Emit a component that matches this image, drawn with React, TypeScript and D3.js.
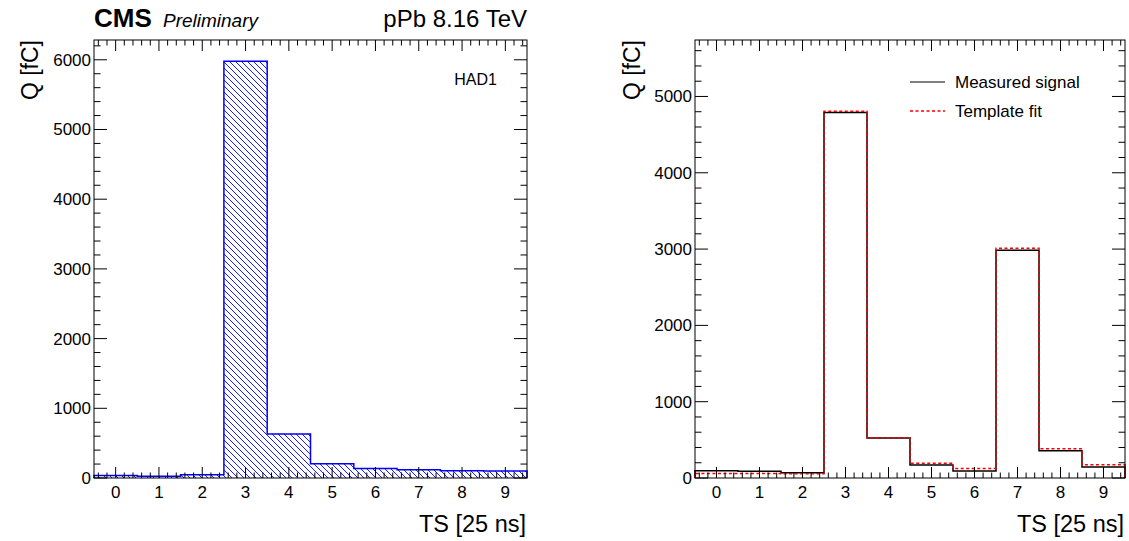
import React from 'react';
import * as d3 from 'd3';

// time slices (bin centres)
const timeSlices = [0, 1, 2, 3, 4, 5, 6, 7, 8, 9];
// left: HAD1 pulse
const had1Charge = [35, 25, 45, 5980, 630, 205, 135, 120, 105, 100];
// right: measured signal and template fit
const measuredSignal = [95, 88, 70, 4790, 525, 170, 92, 2985, 358, 144];
const templateFit = [60, 60, 56, 4805, 528, 192, 126, 3012, 384, 174];
const leftYMax = 6284;
const rightYMax = 5740;
const yTicksMajor = [0, 1000, 2000, 3000, 4000, 5000, 6000];

const W = 1129;
const H = 541;
const FONT = '"Liberation Sans", Arial, Helvetica, sans-serif';

type PanelProps = {
  x0: number;
  x1: number;
  yMax: number;
  children: (x: d3.ScaleLinear<number, number>, y: d3.ScaleLinear<number, number>) => React.ReactNode;
  titleX: number;
};

const top = 40;
const bottom = 478;

// builds a closed step outline for a histogram
const stepPath = (vals: number[], x: d3.ScaleLinear<number, number>, y: d3.ScaleLinear<number, number>) => {
  const pts: [number, number][] = [[x(-0.5), y(0)]];
  vals.forEach((v, i) => {
    pts.push([x(timeSlices[i] - 0.5), y(v)]);
    pts.push([x(timeSlices[i] + 0.5), y(v)]);
  });
  pts.push([x(9.5), y(0)]);
  return d3.line()(pts) || '';
};

const Panel = ({ x0, x1, yMax, children, titleX }: PanelProps) => {
  const x = d3.scaleLinear().domain([-0.5, 9.5]).range([x0, x1]);
  const y = d3.scaleLinear().domain([0, yMax]).range([bottom, top]);
  const xMinor = d3.range(-0.4, 9.5, 0.2).filter((t) => Math.abs(t - Math.round(t)) > 0.01);
  const yMinor = d3.range(0, yMax, 200).filter((t) => t % 1000 !== 0);
  const yMajor = yTicksMajor.filter((t) => t <= yMax);
  return (
    <g>
      {children(x, y)}
      {/* ticks */}
      <g stroke="#000" strokeWidth={1}>
        {timeSlices.map((t) => (
          <g key={'xm' + t}>
            <line x1={x(t)} x2={x(t)} y1={bottom} y2={bottom - 11} />
            <line x1={x(t)} x2={x(t)} y1={top} y2={top + 11} />
          </g>
        ))}
        {xMinor.map((t, i) => (
          <g key={'xn' + i}>
            <line x1={x(t)} x2={x(t)} y1={bottom} y2={bottom - 5.5} />
            <line x1={x(t)} x2={x(t)} y1={top} y2={top + 5.5} />
          </g>
        ))}
        {yMajor.map((t) => (
          <g key={'ym' + t}>
            <line x1={x0} x2={x0 + 13} y1={y(t)} y2={y(t)} />
            <line x1={x1} x2={x1 - 13} y1={y(t)} y2={y(t)} />
          </g>
        ))}
        {yMinor.map((t) => (
          <g key={'yn' + t}>
            <line x1={x0} x2={x0 + 6.5} y1={y(t)} y2={y(t)} />
            <line x1={x1} x2={x1 - 6.5} y1={y(t)} y2={y(t)} />
          </g>
        ))}
      </g>
      <rect x={x0} y={top} width={x1 - x0} height={bottom - top} fill="none" stroke="#000" strokeWidth={1} />
      {/* labels */}
      <g fontFamily={FONT} fontSize={17} fill="#000">
        {timeSlices.map((t) => (
          <text key={'xl' + t} x={x(t)} y={498} textAnchor="middle">{t}</text>
        ))}
        {yMajor.map((t) => (
          <text key={'yl' + t} x={x0 - 3} y={y(t) + 6} textAnchor="end">{t}</text>
        ))}
      </g>
      <text x={x1 - 1} y={532} textAnchor="end" fontFamily={FONT} fontSize={23.5}>TS [25 ns]</text>
      <text transform={`translate(${titleX},${top}) rotate(-90)`} textAnchor="end" fontFamily={FONT} fontSize={23}>Q [fC]</text>
    </g>
  );
};

export default function App() {
  return (
    <svg width={W} height={H} style={{ position: 'absolute', left: 0, top: 0, display: 'block', background: '#fff' }}>
      <defs>
        <pattern id="hatch" patternUnits="userSpaceOnUse" width={6} height={6}>
          <path d="M0,0 L6,6 M-1,5 L1,7 M5,-1 L7,1" stroke="#0000ff" strokeWidth={0.9} />
        </pattern>
      </defs>
      <rect width={W} height={H} fill="#fff" />
      <Panel x0={94} x1={527} yMax={leftYMax} titleX={38}>
        {(x, y) => (
          <g>
            <path d={stepPath(had1Charge, x, y)} fill="url(#hatch)" stroke="#0000ff" strokeWidth={1.5} />
            <text x={497} y={85} textAnchor="end" fontFamily={FONT} fontSize={16}>HAD1</text>
          </g>
        )}
      </Panel>
      <Panel x0={695} x1={1125} yMax={rightYMax} titleX={640}>
        {(x, y) => (
          <g>
            <path d={stepPath(measuredSignal, x, y)} fill="none" stroke="#000" strokeWidth={1.5} />
            <path d={stepPath(templateFit, x, y)} fill="none" stroke="#ff0000" strokeWidth={1.5} strokeDasharray="3,2.5" />
            <g fontFamily={FONT} fontSize={17}>
              <line x1={910} x2={945} y1={82} y2={82} stroke="#000" strokeWidth={1.2} />
              <text x={955} y={88}>Measured signal</text>
              <line x1={910} x2={945} y1={111} y2={111} stroke="#ff0000" strokeWidth={1.5} strokeDasharray="3,2.5" />
              <text x={955} y={117}>Template fit</text>
            </g>
          </g>
        )}
      </Panel>
      <text x={94} y={27} fontFamily={FONT} fontSize={26} fontWeight="bold">CMS</text>
      <text x={163} y={27} fontFamily={FONT} fontSize={19} fontStyle="italic">Preliminary</text>
      <text x={527} y={27} textAnchor="end" fontFamily={FONT} fontSize={24}>pPb 8.16 TeV</text>
    </svg>
  );
}
